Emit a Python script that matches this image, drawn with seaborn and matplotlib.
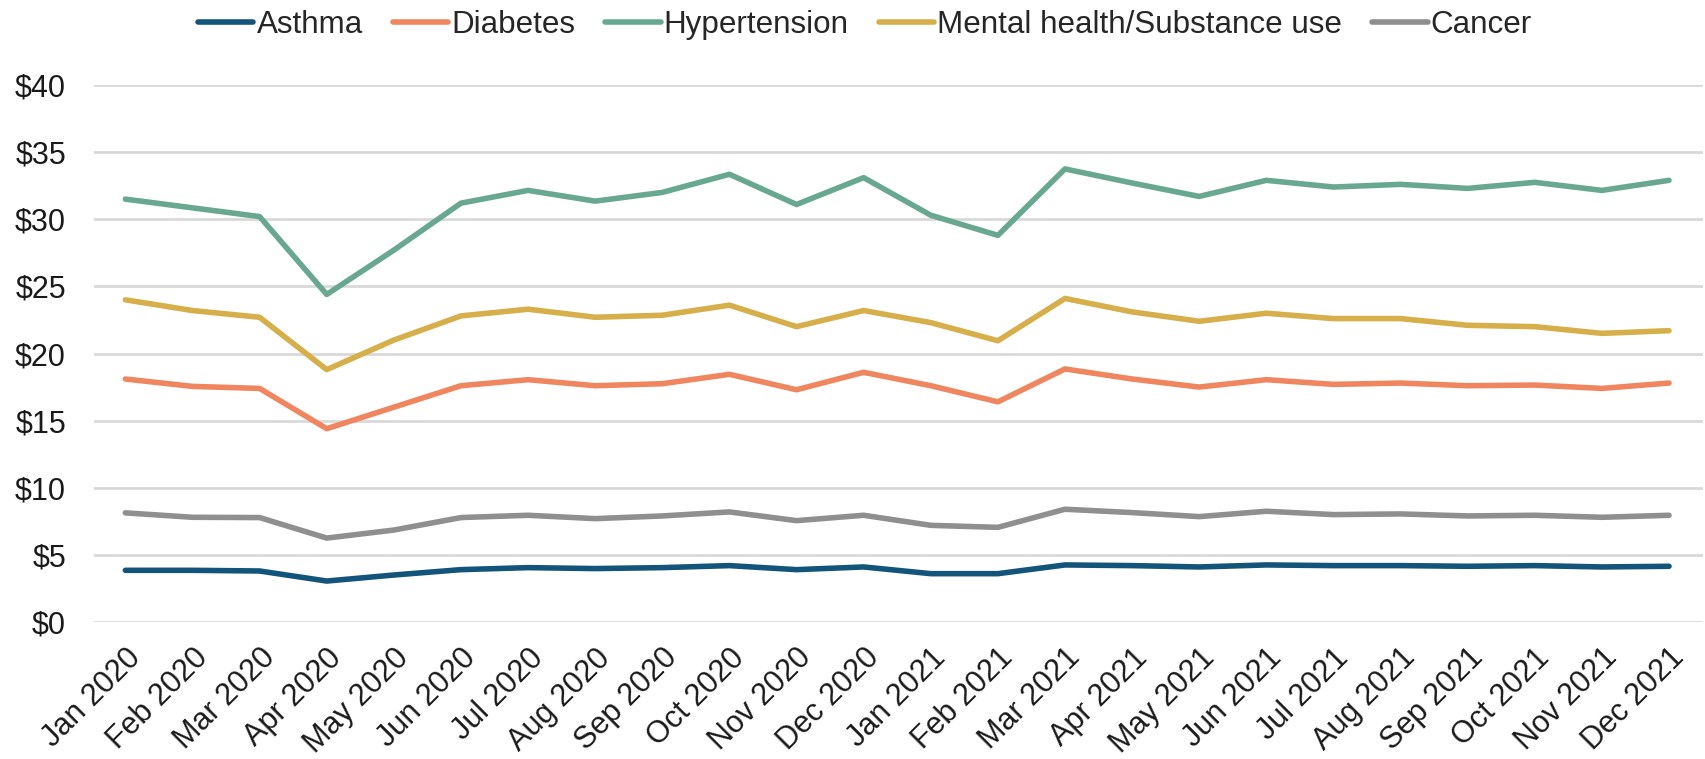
"""Monthly per-member spending on chronic conditions, 2020-2021."""
import matplotlib
matplotlib.use("Agg")
import matplotlib.pyplot as plt
import pandas as pd
import seaborn as sns

MONTHS = [f"{m} {y}" for y in (2020, 2021)
          for m in ["Jan", "Feb", "Mar", "Apr", "May", "Jun",
                    "Jul", "Aug", "Sep", "Oct", "Nov", "Dec"]]

ASTHMA = [3.85, 3.85, 3.8, 3.05, 3.5, 3.9, 4.05, 3.98, 4.05, 4.2, 3.9, 4.1,
          3.6, 3.6, 4.25, 4.2, 4.1, 4.25, 4.2, 4.2, 4.15, 4.2, 4.1, 4.15]
DIABETES = [18.1, 17.55, 17.4, 14.4, 16.0, 17.6, 18.05, 17.6, 17.75, 18.45, 17.3, 18.6,
            17.6, 16.4, 18.85, 18.1, 17.5, 18.05, 17.7, 17.8, 17.6, 17.65, 17.4, 17.8]
HYPERTENSION = [31.5, 30.85, 30.2, 24.4, 27.7, 31.2, 32.15, 31.35, 32.0, 33.35, 31.1, 33.1,
                30.3, 28.8, 33.75, 32.7, 31.7, 32.9, 32.4, 32.6, 32.3, 32.75, 32.15, 32.9]
MENTAL = [24.0, 23.2, 22.7, 18.8, 21.0, 22.8, 23.3, 22.7, 22.85, 23.6, 22.0, 23.2,
          22.3, 20.95, 24.1, 23.1, 22.4, 23.0, 22.6, 22.6, 22.1, 22.0, 21.5, 21.7]
CANCER = [8.13, 7.8, 7.78, 6.25, 6.85, 7.78, 7.95, 7.7, 7.9, 8.2, 7.55, 7.95,
          7.2, 7.05, 8.4, 8.15, 7.85, 8.25, 8.0, 8.05, 7.9, 7.95, 7.8, 7.95]

SERIES = {
    "Asthma": ASTHMA,
    "Diabetes": DIABETES,
    "Hypertension": HYPERTENSION,
    "Mental health/Substance use": MENTAL,
    "Cancer": CANCER,
}
COLORS = ["#13547a", "#f0865f", "#69a890", "#d6ae4a", "#8f8f8f"]
Y_TICKS = [0, 5, 10, 15, 20, 25, 30, 35, 40]


def main() -> None:
    rows = []
    for name, vals in SERIES.items():
        for i, v in enumerate(vals):
            rows.append({"month": i, "condition": name, "cost": v})
    df = pd.DataFrame(rows)

    sns.set_theme(style="white")
    plt.rcParams["font.family"] = ["Liberation Sans", "DejaVu Sans"]

    fig = plt.figure(figsize=(17.06, 7.59), dpi=100)
    ax = fig.add_axes([0.055, 0.1805, 0.943, 0.7075])
    sns.lineplot(data=df, x="month", y="cost", hue="condition",
                 palette=COLORS, linewidth=4.0, ax=ax, legend=True,
                 solid_capstyle="round")

    ax.set_xlim(-0.47, 23.5)
    ax.set_ylim(0, 40)
    ax.set_yticks(Y_TICKS)
    ax.set_yticklabels([f"${v}" for v in Y_TICKS])
    ax.set_xticks(range(len(MONTHS)))
    ax.set_xticklabels(MONTHS, rotation=45, ha="right", rotation_mode="anchor")
    ax.tick_params(axis="both", labelsize=22, colors="#1a1a1a", length=0)
    ax.tick_params(axis="x", pad=15)
    ax.tick_params(axis="y", pad=20)
    ax.set_xlabel("")
    ax.set_ylabel("")
    ax.grid(axis="y", color="#d9d9d9", linewidth=2.0)
    ax.set_axisbelow(True)
    for side in ax.spines.values():
        side.set_visible(False)

    handles, labels = ax.get_legend_handles_labels()
    ax.get_legend().remove()
    fig.legend(handles, labels, loc="upper center", bbox_to_anchor=(0.507, 1.012),
               ncol=5, frameon=False, fontsize=22.6, handlelength=1.77,
               handletextpad=0.1, columnspacing=0.95, borderaxespad=0.2)

    fig.savefig("out.png", dpi=100)
    plt.close(fig)


if __name__ == "__main__":
    main()
